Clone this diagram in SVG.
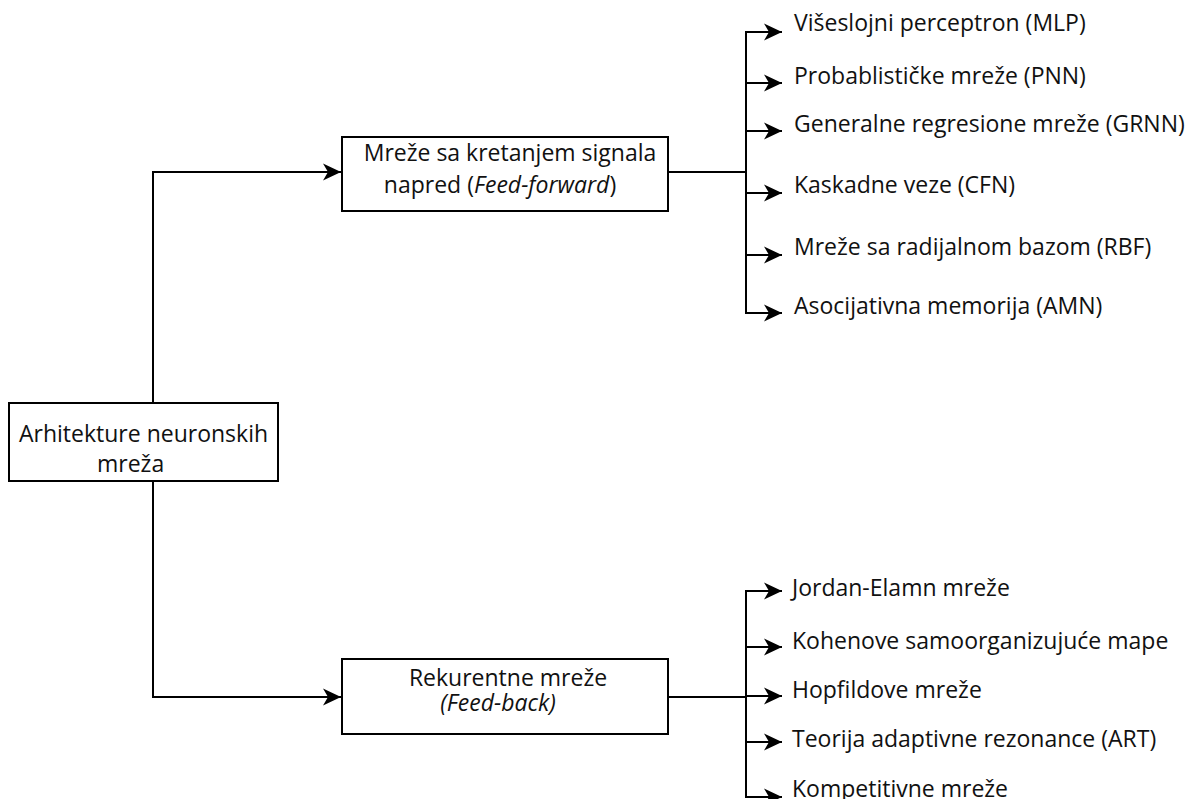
<svg xmlns="http://www.w3.org/2000/svg" width="1190" height="799" viewBox="0 0 1190 799">
  <style>
    .box { fill: #ffffff; stroke: #000000; stroke-width: 2; }
    .wire { fill: none; stroke: #000000; stroke-width: 2; }
    .lbl { font-family: "Open Sans", "Noto Sans", "Liberation Sans", sans-serif; font-size: 23px; fill: #111111; }
    .mid { text-anchor: middle; }
    .it { font-style: italic; }
  </style>
  <defs>
    <marker id="arrow" markerUnits="userSpaceOnUse" markerWidth="22" markerHeight="22" viewBox="-20 -11 22 22" refX="0" refY="0" orient="auto">
      <path d="M0,0 L-18,-8.5 L-13,0 L-18,8.5 Z" fill="#000000"/>
    </marker>
  </defs>

  <rect width="1190" height="799" fill="#ffffff"/>

  <!-- connectors -->
  <g id="connectors">
    <path class="wire" d="M153,403 V172 H341" marker-end="url(#arrow)"/>
    <path class="wire" d="M153,481 V697 H341" marker-end="url(#arrow)"/>

    <!-- feed-forward branch bus -->
    <path class="wire" d="M668,172 H746"/>
    <path class="wire" d="M746,31 V314"/>
    <path class="wire" d="M745,32 H782" marker-end="url(#arrow)"/>
    <path class="wire" d="M745,83 H782" marker-end="url(#arrow)"/>
    <path class="wire" d="M745,131 H782" marker-end="url(#arrow)"/>
    <path class="wire" d="M745,193 H782" marker-end="url(#arrow)"/>
    <path class="wire" d="M745,255 H782" marker-end="url(#arrow)"/>
    <path class="wire" d="M745,313 H782" marker-end="url(#arrow)"/>

    <!-- feed-back branch bus -->
    <path class="wire" d="M668,697 H746"/>
    <path class="wire" d="M746,590 V798"/>
    <path class="wire" d="M745,591 H782" marker-end="url(#arrow)"/>
    <path class="wire" d="M745,647 H782" marker-end="url(#arrow)"/>
    <path class="wire" d="M745,696 H782" marker-end="url(#arrow)"/>
    <path class="wire" d="M745,742 H782" marker-end="url(#arrow)"/>
    <path class="wire" d="M745,797 H782" marker-end="url(#arrow)"/>
  </g>

  <!-- root -->
  <g id="root">
    <rect class="box" x="9" y="403" width="269" height="78"/>
    <text class="lbl" x="19" y="442">Arhitekture neuronskih</text>
    <text class="lbl" x="97" y="472">mreža</text>
  </g>

  <!-- feed-forward networks -->
  <g id="feedforward">
    <rect class="box" x="342" y="137" width="326" height="74"/>
    <text class="lbl mid" x="510" y="161">Mreže sa kretanjem signala</text>
    <text class="lbl mid" x="500" y="193">napred (<tspan class="it">Feed-forward</tspan>)</text>
  </g>

  <!-- recurrent networks -->
  <g id="feedback">
    <rect class="box" x="342" y="659" width="326" height="75"/>
    <text class="lbl mid" x="508" y="686">Rekurentne mreže</text>
    <text class="lbl mid it" x="498" y="711">(Feed-back)</text>
  </g>

  <!-- feed-forward leaves -->
  <g id="mlp"><text class="lbl" x="794" y="31">Višeslojni perceptron (MLP)</text></g>
  <g id="pnn"><text class="lbl" x="794" y="84">Probablističke mreže (PNN)</text></g>
  <g id="grnn"><text class="lbl" x="794" y="132">Generalne regresione mreže (GRNN)</text></g>
  <g id="cfn"><text class="lbl" x="794" y="193">Kaskadne veze (CFN)</text></g>
  <g id="rbf"><text class="lbl" x="794" y="255">Mreže sa radijalnom bazom (RBF)</text></g>
  <g id="amn"><text class="lbl" x="794" y="314">Asocijativna memorija (AMN)</text></g>

  <!-- recurrent leaves -->
  <g id="jordan"><text class="lbl" x="792" y="596">Jordan-Elamn mreže</text></g>
  <g id="kohonen"><text class="lbl" x="792" y="649">Kohenove samoorganizujuće mape</text></g>
  <g id="hopfield"><text class="lbl" x="792" y="698">Hopfildove mreže</text></g>
  <g id="art"><text class="lbl" x="792" y="747">Teorija adaptivne rezonance (ART)</text></g>
  <g id="competitive"><text class="lbl" x="792" y="797">Kompetitivne mreže</text></g>
</svg>
